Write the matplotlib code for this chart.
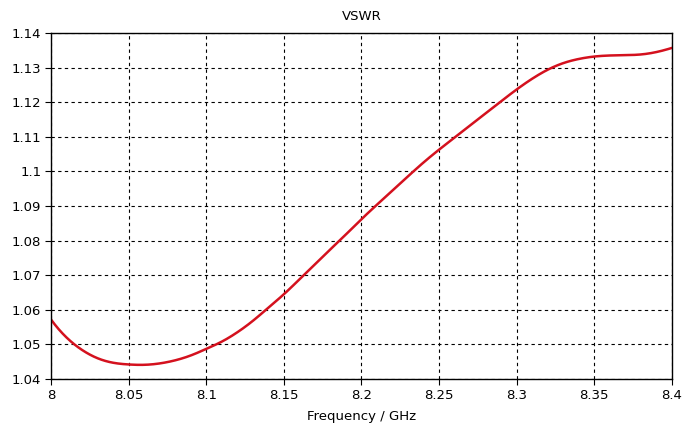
import matplotlib
matplotlib.use("Agg")
import matplotlib.pyplot as plt
import numpy as np

freq = [8.00, 8.01, 8.02, 8.03, 8.04, 8.05, 8.06, 8.07, 8.08, 8.09,
        8.10, 8.11, 8.12, 8.13, 8.14, 8.15, 8.16, 8.17, 8.18, 8.19,
        8.20, 8.21, 8.22, 8.23, 8.24, 8.25, 8.26, 8.27, 8.28, 8.29,
        8.30, 8.31, 8.32, 8.33, 8.34, 8.35, 8.36, 8.37, 8.38, 8.39, 8.40]
vswr = [1.0572, 1.0520, 1.0484, 1.0460, 1.0447, 1.0442, 1.0441, 1.0445, 1.0454, 1.0468,
        1.0487, 1.0508, 1.0535, 1.0568, 1.0606, 1.0645, 1.0688, 1.0732, 1.0775, 1.0818,
        1.0862, 1.0904, 1.0945, 1.0986, 1.1026, 1.1063, 1.1098, 1.1133, 1.1168, 1.1203,
        1.1237, 1.1268, 1.1294, 1.1313, 1.1325, 1.1332, 1.1335, 1.1336, 1.1338, 1.1345, 1.1357]

xticks = [8.0, 8.05, 8.1, 8.15, 8.2, 8.25, 8.3, 8.35, 8.4]
xticklabels = ["8", "8.05", "8.1", "8.15", "8.2", "8.25", "8.3", "8.35", "8.4"]
yticks = [1.04, 1.05, 1.06, 1.07, 1.08, 1.09, 1.10, 1.11, 1.12, 1.13, 1.14]
yticklabels = ["1.04", "1.05", "1.06", "1.07", "1.08", "1.09", "1.1", "1.11", "1.12", "1.13", "1.14"]

plt.rcParams['font.family'] = ['DejaVu Sans']
fig = plt.figure(figsize=(6.86, 4.32), dpi=100)
ax = fig.add_axes([51/686, 1-379/432, 621/686, 346/432])

xs = np.array(freq); ys = np.array(vswr)
try:
    from scipy.interpolate import CubicSpline
    xf = np.linspace(xs[0], xs[-1], 800)
    yf = CubicSpline(xs, ys)(xf)
except Exception:
    xf, yf = xs, ys
ax.plot(xf, yf, color='#d4111e', lw=1.8, solid_capstyle='round')

ax.set_xlim(8.0, 8.4)
ax.set_ylim(1.04, 1.14)
ax.set_xticks(xticks)
ax.set_xticklabels(xticklabels)
ax.set_yticks(yticks)
ax.set_yticklabels(yticklabels)
ax.grid(True, color='black', linestyle=(0, (3, 3)), linewidth=0.8)
ax.tick_params(direction='out', length=4, width=0.8, labelsize=9.5, colors='black', pad=3)
for s in ax.spines.values():
    s.set_linewidth(1.0)
    s.set_color('black')
ax.set_xlabel("Frequency / GHz", fontsize=9.5, labelpad=6)
ax.set_title("VSWR", fontsize=9.5, pad=9)

fig.savefig("out.png", dpi=100)
